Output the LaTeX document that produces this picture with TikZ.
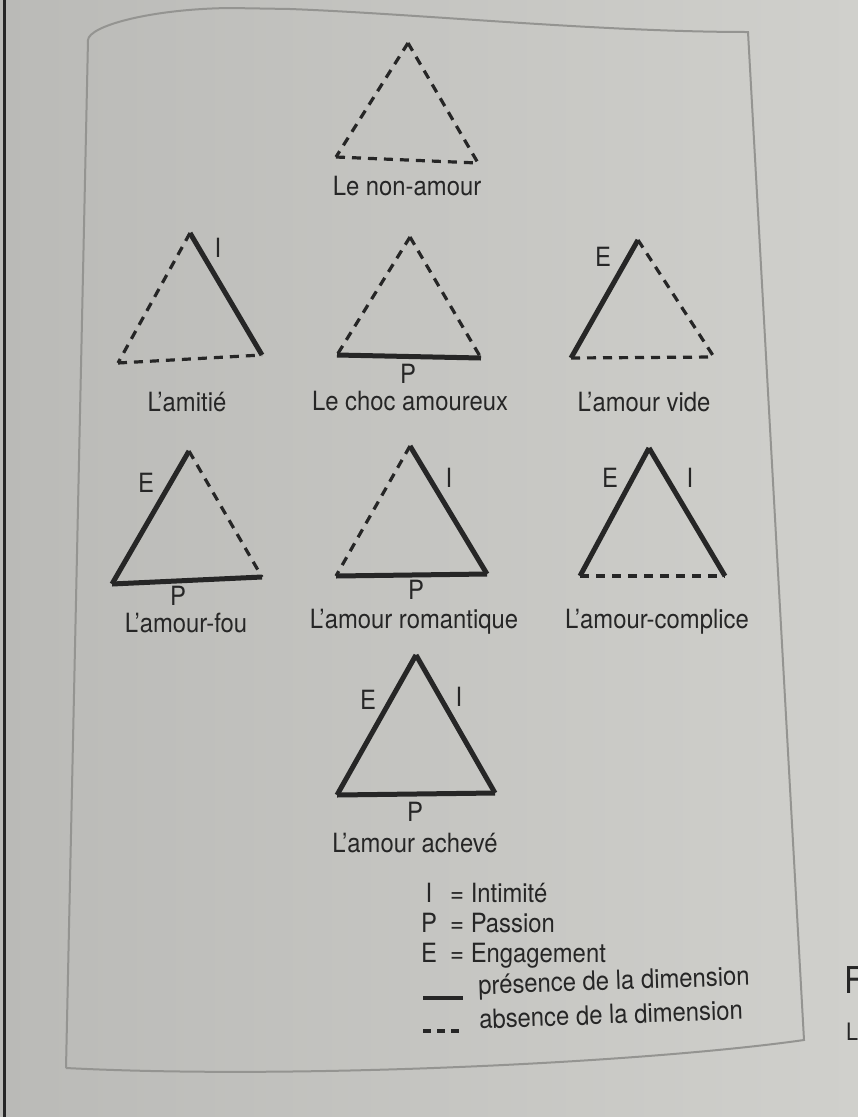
\documentclass[tikz,border=0pt]{standalone}
\usepackage{fontspec}
\setmainfont{TeX Gyre Heros}[FakeStretch=0.9]
\definecolor{paper}{RGB}{208,208,204}
\definecolor{paperdark}{RGB}{186,186,183}
\definecolor{ink}{RGB}{38,38,38}
\definecolor{framegray}{RGB}{148,148,145}

\begin{document}
\begin{tikzpicture}[x=1pt, y=-1pt,
    present/.style={draw=ink, line width=5pt, line join=miter},
    absent/.style={draw=ink, line width=3.2pt, dash pattern=on 9pt off 7pt},
    txt/.style={text=ink, inner sep=0pt, text height=19pt, text depth=0pt,
      font=\fontsize{26.5}{31}\selectfont}]

    \useasboundingbox (0,0) rectangle (858,1117);
    \shade[left color=paperdark, right color=paper] (0,0) rectangle (858,1117);
    \draw[ink, line width=3pt] (4,0) -- (4,1117);

    % frame of the figure
    \draw[framegray, line width=2pt] (66,1068) -- (88,40)
      .. controls (89,26) and (150,9) .. (230,8) -- (290,9)
      .. controls (420,14) and (600,32) .. (748,32) -- (804,1040)
      .. controls (650,1062) and (300,1080) .. (66,1068);

    % Le non-amour
    \coordinate (na1) at (408,43);
    \coordinate (na2) at (336,157);
    \coordinate (na3) at (478,163);
    \draw[absent] (na1) -- (na2);
    \draw[absent] (na2) -- (na3);
    \draw[absent] (na1) -- (na3);
    \node[txt] (nonamour) at (407,186) {Le non-amour};

    % L'amitie
    \coordinate (am1) at (190,233);
    \coordinate (am2) at (118,363);
    \coordinate (am3) at (262,355);
    \draw[absent] (am1) -- (am2);
    \draw[absent] (am2) -- (am3);
    \draw[present] (am1) -- (am3);
    \node[txt] (amI) at (218,248) {I};
    \node[txt] (amitie) at (187,402) {L’amitié};

    % Le choc amoureux
    \coordinate (ch1) at (410,237);
    \coordinate (ch2) at (337,355);
    \coordinate (ch3) at (481,358);
    \draw[absent] (ch1) -- (ch2);
    \draw[present] (ch2) -- (ch3);
    \draw[absent] (ch1) -- (ch3);
    \node[txt] (chP) at (408,374) {P};
    \node[txt] (choc) at (410,401) {Le choc amoureux};

    % L'amour vide
    \coordinate (vi1) at (638,240);
    \coordinate (vi2) at (571,358);
    \coordinate (vi3) at (714,357);
    \draw[present] (vi1) -- (vi2);
    \draw[absent] (vi2) -- (vi3);
    \draw[absent] (vi1) -- (vi3);
    \node[txt] (viE) at (603,257) {E};
    \node[txt] (vide) at (644,402) {L’amour vide};

    % L'amour-fou
    \coordinate (fo1) at (189,451);
    \coordinate (fo2) at (112,584);
    \coordinate (fo3) at (262,577);
    \draw[present] (fo1) -- (fo2);
    \draw[present] (fo2) -- (fo3);
    \draw[absent] (fo1) -- (fo3);
    \node[txt] (foE) at (146,483) {E};
    \node[txt] (foP) at (178,596) {P};
    \node[txt] (fou) at (186,623) {L’amour-fou};

    % L'amour romantique
    \coordinate (ro1) at (410,446);
    \coordinate (ro2) at (336,576);
    \coordinate (ro3) at (487,574);
    \draw[absent] (ro1) -- (ro2);
    \draw[present] (ro2) -- (ro3);
    \draw[present] (ro1) -- (ro3);
    \node[txt] (roI) at (449,478) {I};
    \node[txt] (roP) at (416,590) {P};
    \node[txt] (romantique) at (414,619) {L’amour romantique};

    % L'amour-complice
    \coordinate (co1) at (649,448);
    \coordinate (co2) at (580,576);
    \coordinate (co3) at (725,576);
    \draw[present] (co1) -- (co2);
    \draw[absent] (co2) -- (co3);
    \draw[present] (co1) -- (co3);
    \node[txt] (coE) at (610,478) {E};
    \node[txt] (coI) at (690,478) {I};
    \node[txt] (complice) at (657,619) {L’amour-complice};

    % L'amour acheve
    \coordinate (ac1) at (416,655);
    \coordinate (ac2) at (337,795);
    \coordinate (ac3) at (495,793);
    \draw[present] (ac1) -- (ac2);
    \draw[present] (ac2) -- (ac3);
    \draw[present] (ac1) -- (ac3);
    \node[txt] (acE) at (368,700) {E};
    \node[txt] (acI) at (459,697) {I};
    \node[txt] (acP) at (415,812) {P};
    \node[txt] (acheve) at (415,843) {L’amour achevé};

    % legend
    \node[txt] (keyI) at (429,893) {I};
    \node[txt, anchor=west] (defI) at (450,893) {= Intimité};
    \node[txt] (keyP) at (429,923) {P};
    \node[txt, anchor=west] (defP) at (450,923) {= Passion};
    \node[txt] (keyE) at (429,953) {E};
    \node[txt, anchor=west] (defE) at (450,953) {= Engagement};
    \coordinate (solidA) at (423,998);
    \coordinate (solidB) at (463,998);
    \draw[ink, line width=4.5pt] (solidA) -- (solidB);
    \node[txt, anchor=west, rotate=2] (defsolid) at (478,985) {présence de la dimension};
    \coordinate (dashA) at (423,1031);
    \coordinate (dashB) at (463,1031);
    \draw[ink, line width=4pt, dash pattern=on 8pt off 6pt] (dashA) -- (dashB);
    \node[txt, anchor=west, rotate=2] (defdash) at (479,1019) {absence de la dimension};

    % caption cut off at the right edge
    \node[text=ink, inner sep=0pt, anchor=west, font=\fontsize{37}{40}\selectfont] (capF) at (844,980) {F};
    \node[text=ink, inner sep=0pt, anchor=west, font=\fontsize{24}{28}\selectfont] (capL) at (846,1032) {L};

  \end{tikzpicture}
\end{document}
